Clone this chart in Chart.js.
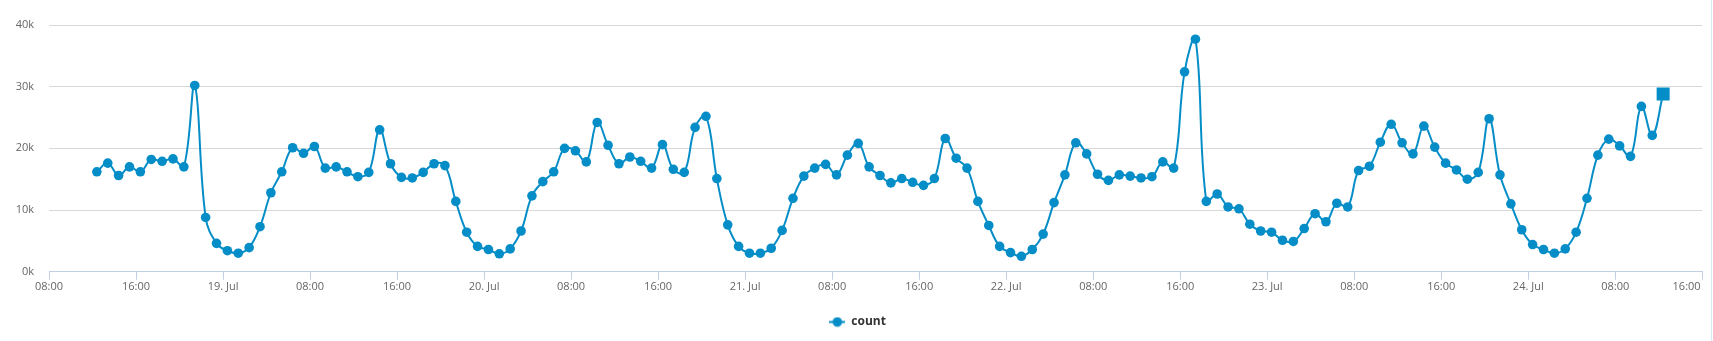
<!DOCTYPE html>
<html>
<head>
<meta charset="utf-8">
<script src="https://cdn.jsdelivr.net/npm/chart.js@4.4.0/dist/chart.umd.min.js"></script>
<style>
  body { margin: 0; background: #fff; }
  #wrap { position: relative; width: 1713px; height: 341px; }
  #edge { position: absolute; left: 1711px; top: 0; width: 1px; height: 341px; background: #d3ecf4; }
</style>
</head>
<body>
<div id="wrap">
  <canvas id="chart-count" width="1713" height="341"></canvas>
  <div id="edge"></div>
</div>
<script>
// hourly counts, first point 18. Jul ~12:24
var startHour = 12.4; // hours since 18. Jul 00:00
var stepHour = 1;
var counts = [
  16200, 17600, 15600, 17000, 16200, 18200, 17900, 18300, 17000, 30200,
  8800, 4600, 3400, 3000, 3900, 7300, 12800, 16200, 20100, 19200,
  20300, 16800, 17000, 16200, 15400, 16100, 23000, 17500, 15300, 15200,
  16100, 17500, 17200, 11400, 6400, 4100, 3600, 2900, 3700, 6600,
  12300, 14600, 16200, 20000, 19600, 17800, 24200, 20500, 17500, 18600,
  17900, 16800, 20600, 16600, 16100, 23400, 25200, 15100, 7600, 4100,
  3000, 3000, 3800, 6700, 11900, 15500, 16800, 17400, 15700, 18900,
  20800, 17000, 15600, 14400, 15100, 14500, 14000, 15100, 21600, 18400,
  16800, 11400, 7500, 4100, 3100, 2500, 3600, 6100, 11200, 15700,
  20900, 19100, 15800, 14800, 15700, 15500, 15200, 15400, 17800, 16800,
  32400, 37700, 11400, 12600, 10500, 10200, 7700, 6600, 6400, 5100,
  4900, 7000, 9400, 8100, 11100, 10500, 16400, 17100, 21000, 23900,
  20900, 19100, 23600, 20200, 17600, 16500, 15000, 16100, 24800, 15700,
  11000, 6800, 4400, 3600, 3000, 3700, 6400, 11900, 18900, 21500,
  20400, 18700, 26800, 22100, 28800
];
var seriesName = "count";
var monthName = "Jul";
var firstDay = 18;
var yTicks = [0, 10000, 20000, 30000, 40000];

var blue = "#058DC7";

// points: {x: hour, y: count}
var points = [];
var styles = [];
var radii = [];
for (var i = 0; i < counts.length; i++) {
  points.push({ x: startHour + i * stepHour, y: counts[i] });
  // last point is drawn as a square
  styles.push(i == counts.length - 1 ? "rect" : "circle");
  radii.push(i == counts.length - 1 ? 9.2 : 4.8);
}

// legend symbol: line with a dot
var legendIcon = document.createElement("canvas");
legendIcon.width = 16;
legendIcon.height = 11;
var lctx = legendIcon.getContext("2d");
lctx.strokeStyle = blue;
lctx.lineWidth = 2;
lctx.beginPath();
lctx.moveTo(0, 5.5);
lctx.lineTo(16, 5.5);
lctx.stroke();
lctx.fillStyle = blue;
lctx.beginPath();
lctx.arc(8, 5.5, 4.8, 0, Math.PI * 2);
lctx.fill();

function pad(n) {
  return n < 10 ? "0" + n : "" + n;
}

var ctx = document.getElementById("chart-count").getContext("2d");
var myChart = new Chart(ctx, {
  type: "line",
  data: {
    datasets: [
      {
        label: seriesName,
        data: points,
        borderColor: blue,
        backgroundColor: blue,
        borderWidth: 2,
        tension: 0.4,
        fill: false,
        pointStyle: styles,
        pointRadius: radii,
        pointBorderWidth: 0,
        pointBackgroundColor: blue,
      },
    ],
  },
  options: {
    responsive: false,
    animation: false,
    layout: {
      padding: { top: 25, right: 10.7, bottom: 3, left: 13 },
    },
    plugins: {
      tooltip: { enabled: false },
      legend: {
        position: "bottom",
        labels: {
          usePointStyle: true,
          pointStyle: legendIcon,
          pointStyleWidth: 16,
          padding: 19.3,
          color: "#333",
          font: { family: "Open Sans", size: 12, weight: "bold" },
        },
      },
    },
    scales: {
      x: {
        type: "linear",
        min: 8,
        max: 160,
        afterFit: function (scale) {
          scale.height = 25;
          scale.paddingLeft = 0;
          scale.paddingRight = 0;
        },
        ticks: {
          stepSize: 8,
          autoSkip: false,
          maxRotation: 0,
          padding: 1,
          color: "#666",
          font: { family: "Open Sans", size: 11 },
          callback: function (v) {
            var h = v % 24;
            var label;
            if (h == 0) label = firstDay + v / 24 + ". " + monthName;
            else label = pad(h) + ":00";
            // keep the last label inside the chart
            if (v == 160) label = label + "           ";
            return label;
          },
        },
        grid: {
          drawOnChartArea: false,
          drawTicks: true,
          tickLength: 8,
          color: "#C0D0E0",
        },
        border: { color: "#C0D0E0", width: 1 },
      },
      y: {
        min: 0,
        max: 40000,
        afterFit: function (scale) {
          scale.width = 36;
        },
        afterBuildTicks: function (scale) {
          scale.ticks = yTicks.map(function (v) {
            return { value: v };
          });
        },
        ticks: {
          padding: 15,
          color: "#666",
          font: { family: "Open Sans", size: 11 },
          callback: function (v) {
            return v / 1000 + "k";
          },
        },
        grid: {
          color: "#D8D8D8",
          drawTicks: false,
        },
        border: { display: false },
      },
    },
  },
});
</script>
</body>
</html>
